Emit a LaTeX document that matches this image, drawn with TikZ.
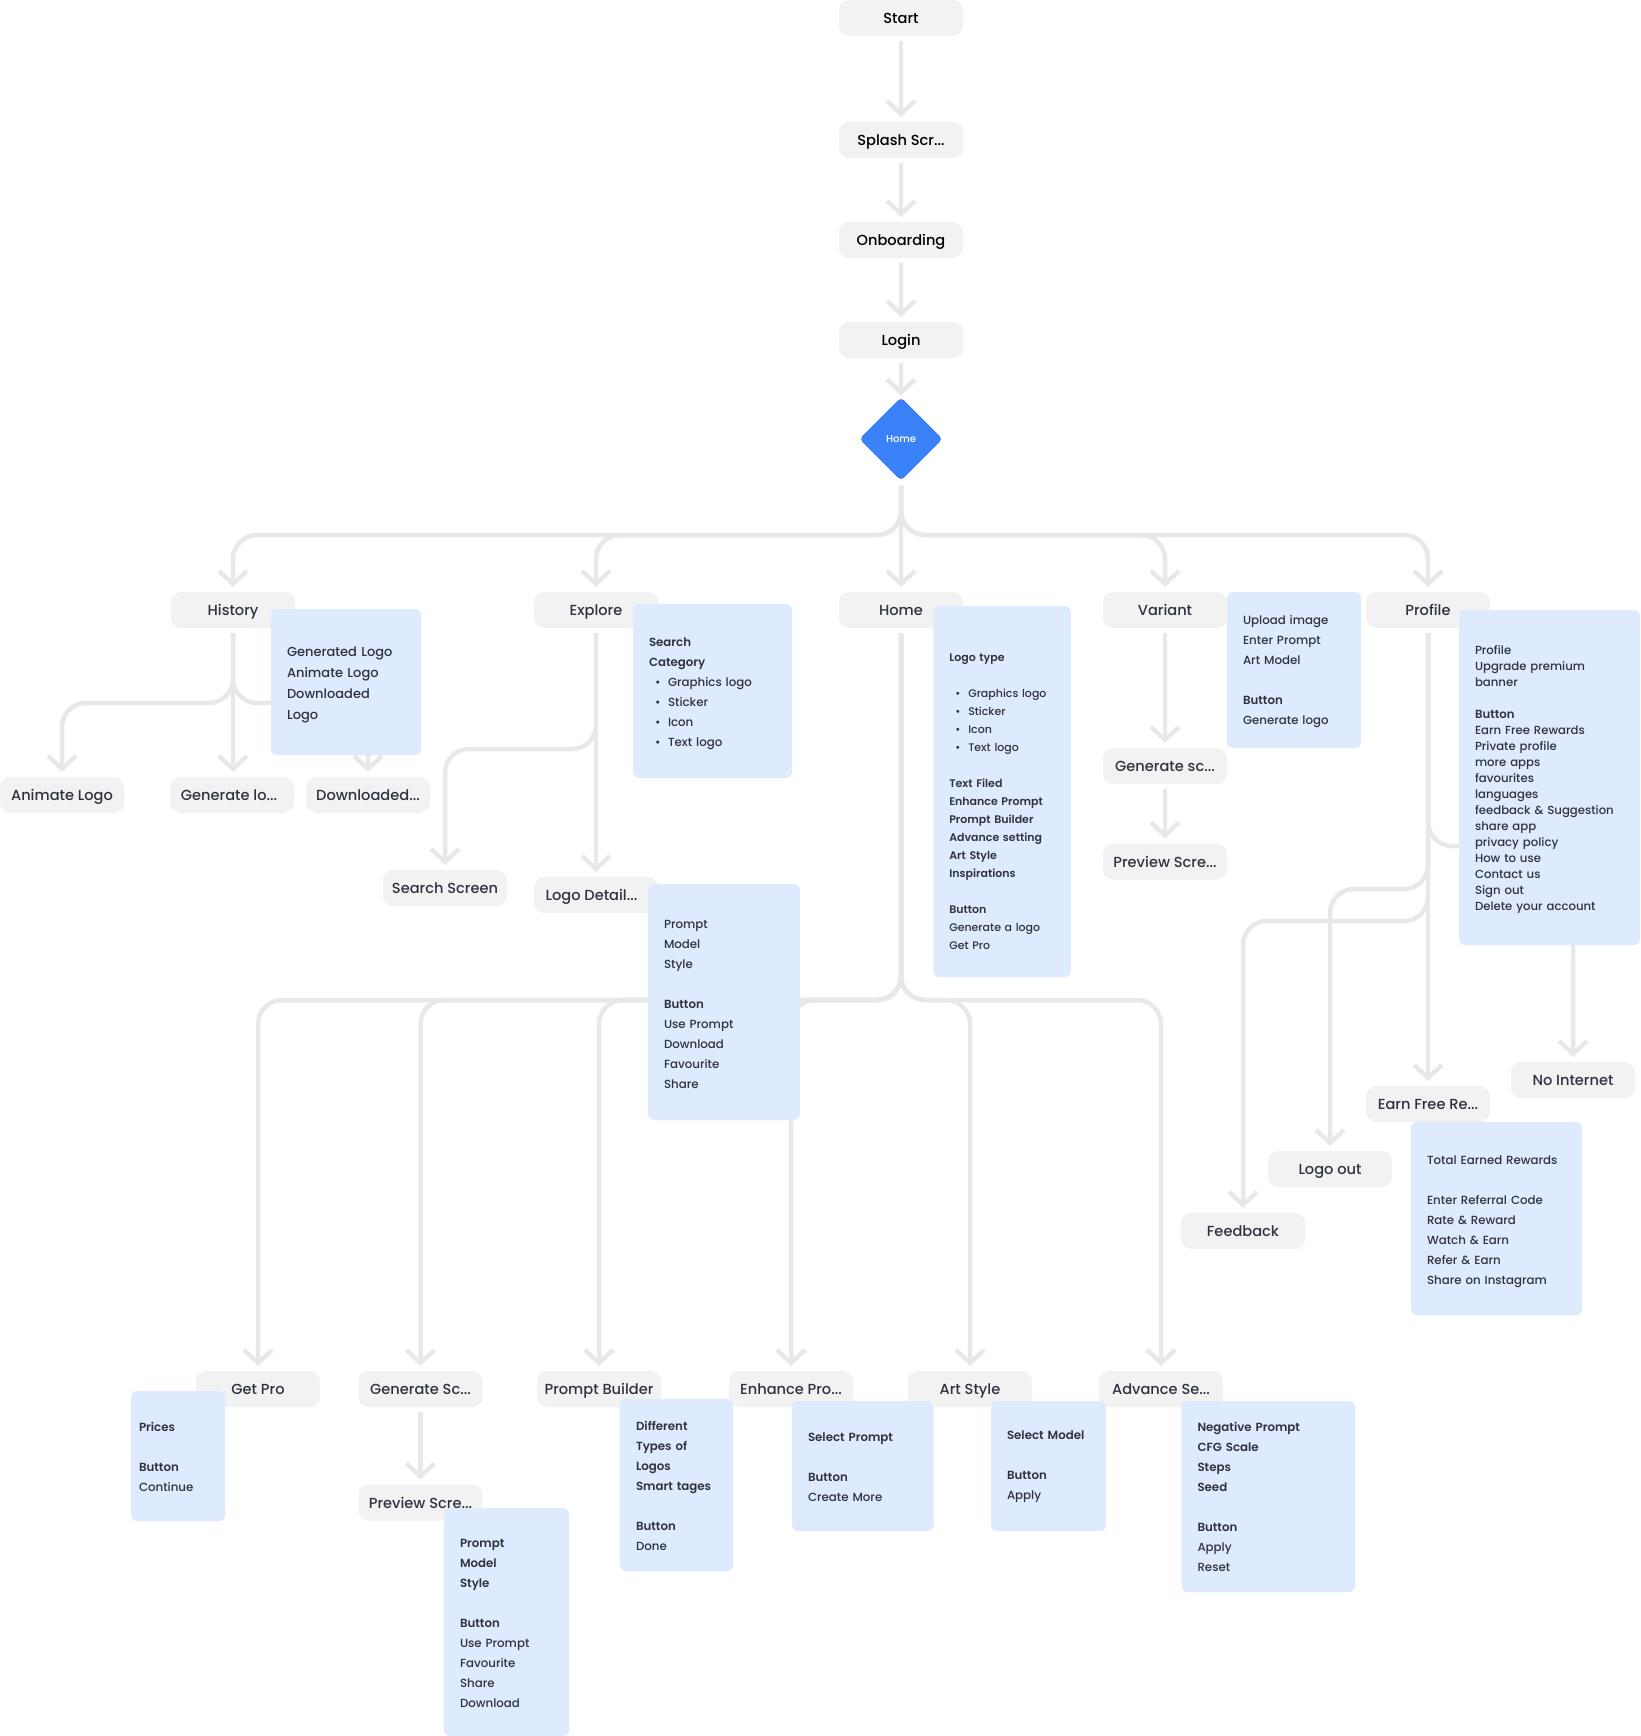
\documentclass[tikz,border=0pt]{standalone}
\usepackage{fontspec}
\setmainfont[BoldFont={Poppins SemiBold}]{Poppins Medium}
\usetikzlibrary{arrows.meta,shapes.geometric,backgrounds}
\definecolor{linegray}{HTML}{E8E8E8}
\definecolor{nodegray}{HTML}{F2F2F2}
\definecolor{boxblue}{HTML}{DEEAFD}
\definecolor{diablue}{HTML}{3B82F8}
\definecolor{inkdark}{HTML}{2F3340}
\newcommand{\fsz}[2]{\fontsize{#1pt}{#2pt}\selectfont}
\newcommand{\bl}[1]{\makebox[19pt][l]{\hspace*{6pt}•}#1}
\tikzset{
  flow/.style={draw=linegray,line width=4.5pt,rounded corners=24pt,-{Straight Barb[length=13pt,width=28pt,line width=4.5pt]}},
  grey/.style={rectangle,fill=nodegray,rounded corners=10pt,minimum width=124pt,minimum height=36pt,inner sep=0pt,outer sep=5pt,text=inkdark,font=\fsz{14.6}{18},text height=13pt,text depth=1.5pt},
  greyk/.style={grey,text=black},
  bb/.style n args={4}{rectangle,fill=boxblue,rounded corners=6pt,minimum width=#1pt,minimum height=#2pt,text width=#1pt-32pt,inner xsep=16pt,inner ysep=0pt,align=left,text=inkdark,font=\fsz{#3}{#4}},
  down/.style={execute at begin node={\rule{0pt}{\dimexpr 9pt+#1\relax}}},
}
\begin{document}
\begin{tikzpicture}[x=1pt,y=-1pt]
\useasboundingbox (0,0) rectangle (1640,1736);
\coordinate (busa) at (0,535);
\coordinate (busb) at (0,703);
\coordinate (busc) at (0,749);
\coordinate (busd) at (0,1000);
\coordinate (buse) at (0,846);
\coordinate (busf) at (0,889);
\coordinate (busg) at (0,921);

\node[greyk] (start) at (901,18) {Start};
\node[greyk] (splash) at (901,140) {Splash Scr...};
\node[greyk] (onb) at (901,240) {Onboarding};
\node[greyk] (login) at (901,340) {Login};
\node[diamond,fill=diablue,rounded corners=4pt,minimum width=86pt,minimum height=86pt,inner sep=0pt,outer sep=3.5pt,text=white,font=\fsz{10}{12}] (dia) at (901,439) {Home};

\node[grey] (hist) at (233,610) {History};
\node[grey] (expl) at (596,610) {Explore};
\node[grey] (home) at (901,610) {Home};
\node[grey] (vari) at (1165,610) {Variant};
\node[grey] (prof) at (1428,610) {Profile};

\node[grey] (anim) at (62,795) {Animate Logo};
\node[grey] (genl) at (232,795) {\hspace*{-6pt}Generate lo...};
\node[grey] (down) at (368,795) {Downloaded...};
\node[grey] (sear) at (445,888) {Search Screen};
\node[grey] (logod) at (596,895) {\hspace*{-9pt}Logo Detail...};
\node[grey] (gens) at (1165,766) {Generate sc...};
\node[grey] (prev) at (1165,861.5) {Preview Scre...};

\node[grey] (nonet) at (1573,1080) {No Internet};
\node[grey] (earn) at (1428,1104) {Earn Free Re...};
\node[grey] (lout) at (1330,1169) {Logo out};
\node[grey] (feed) at (1243,1231) {Feedback};

\node[grey] (gpro) at (258,1389) {Get Pro};
\node[grey] (gsc) at (420.5,1389) {Generate Sc...};
\node[grey] (pb) at (599,1389) {Prompt Builder};
\node[grey] (enh) at (791,1389) {Enhance Pro...};
\node[grey] (art) at (970,1389) {Art Style};
\node[grey] (adv) at (1161,1389) {Advance Se...};
\node[grey] (psc) at (420.5,1502.5) {Preview Scre...};

\begin{scope}[on background layer]
\draw[flow] (start) -- (splash);
\draw[flow] (splash) -- (onb);
\draw[flow] (onb) -- (login);
\draw[flow] (login) -- ([yshift=-3pt]dia.north);
\draw[flow] (dia.south) |- (hist.north |- busa) -- (hist.north);
\draw[flow] (dia.south) |- (expl.north |- busa) -- (expl.north);
\draw[flow] (dia.south) -- (home.north);
\draw[flow] (dia.south) |- (vari.north |- busa) -- (vari.north);
\draw[flow] (dia.south) |- (prof.north |- busa) -- (prof.north);
\draw[flow] (hist.south) |- (anim.north |- busb) -- (anim.north);
\draw[flow] (hist.south) -- (hist.south |- genl.north);
\draw[flow] (hist.south) |- (down.north |- busb) -- (down.north);
\draw[flow] (expl.south) |- (sear.north |- busc) -- (sear.north);
\draw[flow] (expl.south) -- (logod.north);
\draw[flow] (vari.south) -- (gens.north);
\draw[flow] (gens.south) -- (prev.north);
\draw[flow] (home.south) |- (gpro.north |- busd) -- (gpro.north);
\draw[flow] (home.south) |- (gsc.north |- busd) -- (gsc.north);
\draw[flow] (home.south) |- (pb.north |- busd) -- (pb.north);
\draw[flow] (home.south) |- (enh.north |- busd) -- (enh.north);
\draw[flow] (home.south) |- (art.north |- busd) -- (art.north);
\draw[flow] (home.south) |- (adv.north |- busd) -- (adv.north);
\draw[flow] (gsc) -- (psc);
\draw[flow] (prof.south) -- (earn.north);
\draw[flow] (prof.south) |- (nonet.north |- buse) -- (nonet.north);
\draw[flow] (prof.south) |- (lout.north |- busf) -- (lout.north);
\draw[flow] (prof.south) |- (feed.north |- busg) -- (feed.north);
\end{scope}

\node[bb={150}{146}{13}{21},down=6pt] (bhist) at (346,682) {Generated Logo\\Animate Logo\\Downloaded\\Logo};
\node[bb={159}{174}{11.8}{20},down=6pt] (bexpl) at (712.5,691) {\textbf{Search}\\\textbf{Category}\\\bl{Graphics logo}\\\bl{Sticker}\\\bl{Icon}\\\bl{Text logo}};
\node[bb={137.5}{371}{11}{18},down=20pt] (bhome) at (1002,791.5) {\textbf{Logo type}\\~\\\bl{Graphics logo}\\\bl{Sticker}\\\bl{Icon}\\\bl{Text logo}\\~\\\textbf{Text Filed}\\\textbf{Enhance Prompt}\\\textbf{Prompt Builder}\\\textbf{Advance setting}\\\textbf{Art Style}\\\textbf{Inspirations}\\~\\\textbf{Button}\\Generate a logo\\Get Pro};
\node[bb={134}{156}{11.8}{20},down=4pt] (bvari) at (1294,670) {Upload image\\Enter Prompt\\Art Model\\~\\\textbf{Button}\\Generate logo};
\node[bb={181}{335}{11.7}{16},down=5pt] (bprof) at (1549.5,777.5) {Profile\\Upgrade premium\\banner\\~\\\textbf{Button}\\Earn Free Rewards\\Private profile\\more apps\\favourites\\languages\\feedback \& Suggestion\\share app\\privacy policy\\How to use\\Contact us\\Sign out\\Delete your account};
\node[bb={152}{236}{11.8}{20},down=4pt] (blogo) at (724,1002) {Prompt\\Model\\Style\\~\\\textbf{Button}\\Use Prompt\\Download\\Favourite\\Share};
\node[bb={171}{193.5}{11.8}{20},down=6pt] (bearn) at (1496.5,1218.5) {Total Earned Rewards\\~\\Enter Referral Code\\Rate \& Reward\\Watch \& Earn\\Refer \& Earn\\Share on Instagram};
\node[bb={94}{130}{11.8}{20},inner xsep=8pt,text width=78pt,down=2pt] (bgpro) at (178,1456) {\textbf{Prices}\\~\\\textbf{Button}\\Continue};
\node[bb={125}{228}{11.8}{20},down=2pt] (bpsc) at (506.5,1622) {\textbf{Prompt}\\\textbf{Model}\\\textbf{Style}\\~\\\textbf{Button}\\Use Prompt\\Favourite\\Share\\Download};
\node[bb={113}{172.5}{11.8}{20},down=2pt] (bpb) at (676.5,1485) {\textbf{Different}\\\textbf{Types of}\\\textbf{Logos}\\\textbf{Smart tages}\\~\\\textbf{Button}\\Done};
\node[bb={141.5}{130}{11.8}{20},down=2pt] (benh) at (862.75,1466) {\textbf{Select Prompt}\\~\\\textbf{Button}\\Create More};
\node[bb={115}{130}{11.8}{20},down=2pt] (bart) at (1048.5,1466) {\textbf{Select Model}\\~\\\textbf{Button}\\Apply};
\node[bb={173.5}{191}{11.8}{20}] (badv) at (1268.25,1496.5) {\textbf{Negative Prompt}\\\textbf{CFG Scale}\\\textbf{Steps}\\\textbf{Seed}\\~\\\textbf{Button}\\Apply\\Reset};
\end{tikzpicture}
\end{document}
